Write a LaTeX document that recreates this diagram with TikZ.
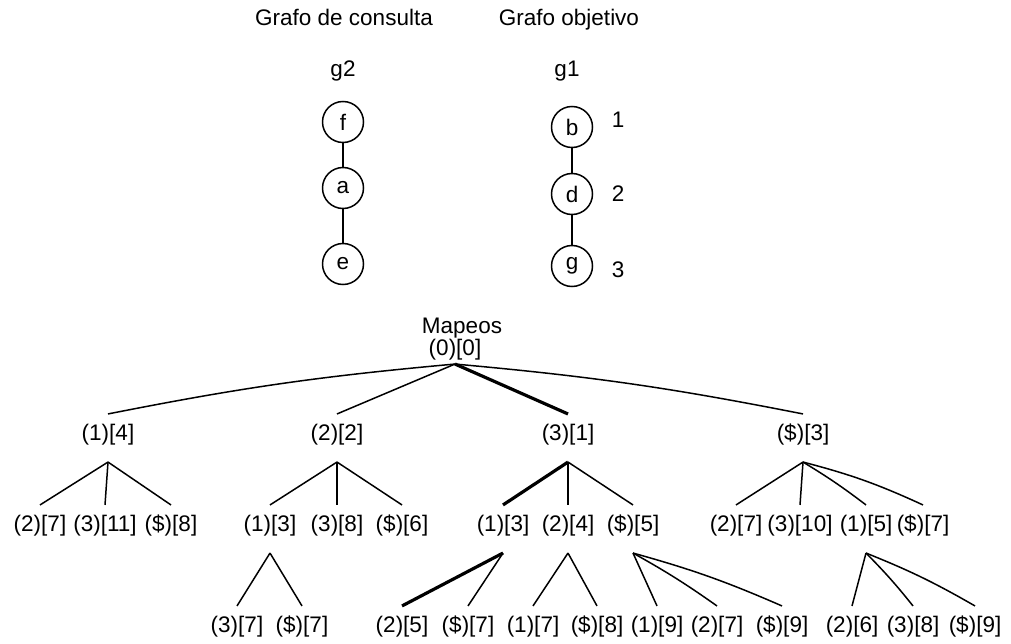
\documentclass[tikz,border=0pt]{standalone}
\usepackage{fontspec}
\setmainfont{Liberation Sans}
\newcommand{\lblfont}{\fontsize{22.5}{27}\selectfont}
\begin{document}
\begin{tikzpicture}[x=1pt,y=-1pt,
  lbl/.style={font=\lblfont, inner sep=0pt, text height=0.75em, text depth=0.2em, outer ysep=19.3pt},
  rootlbl/.style={lbl, outer ysep=6.3pt},
  title/.style={font=\lblfont, inner sep=0pt, anchor=base},
  vtx/.style={circle, draw, line width=1.5pt, minimum size=41pt, inner sep=0pt, font=\lblfont},
  link/.style={line width=1.5pt},
  branch/.style={line width=1.5pt},
  best/.style={line width=3.2pt},
]
\useasboundingbox (0,0) rectangle (1011,644);

% Titles
\node[title] (tq) at (344,26) {Grafo de consulta};
\node[title] (tt) at (569,26) {Grafo objetivo};
\node[title] (g2) at (343,77) {g2};
\node[title] (g1) at (567,77) {g1};

% Query graph
\node[vtx] (f) at (343,122) {f};
\node[vtx] (a) at (343,188) {a};
\node[vtx] (e) at (343,264) {e};
\draw[link] (f) -- (a);
\draw[link] (a) -- (e);

% Target graph
\node[vtx] (b) at (572,127) {b};
\node[vtx] (d) at (572,194) {d};
\node[vtx] (g) at (572,266) {g};
\draw[link] (b) -- (d);
\draw[link] (d) -- (g);
\node[title] (n1) at (618,128) {1};
\node[title] (n2) at (618,202) {2};
\node[title] (n3) at (618,277) {3};

% Mapping tree
\node[title] (map) at (462,333) {Mapeos};
\node[rootlbl] (r) at (455,353) {(0)[0]};

\node[lbl] (L1a) at (108,438) {(1)[4]};
\node[lbl] (L1b) at (337,438) {(2)[2]};
\node[lbl] (L1c) at (568,438) {(3)[1]};
\node[lbl] (L1d) at (803,438) {(\$)[3]};

\node[lbl] (a1) at (40,529) {(2)[7]};
\node[lbl] (a2) at (105,529) {(3)[11]};
\node[lbl] (a3) at (171,529) {(\$)[8]};
\node[lbl] (b1) at (270,529) {(1)[3]};
\node[lbl] (b2) at (337,529) {(3)[8]};
\node[lbl] (b3) at (402,529) {(\$)[6]};
\node[lbl] (c1) at (503,529) {(1)[3]};
\node[lbl] (c2) at (568,529) {(2)[4]};
\node[lbl] (c3) at (633,529) {(\$)[5]};
\node[lbl] (d1) at (736,529) {(2)[7]};
\node[lbl] (d2) at (800,529) {(3)[10]};
\node[lbl] (d3) at (866,529) {(1)[5]};
\node[lbl] (d4) at (923,529) {(\$)[7]};

\node[lbl] (b11) at (237,630) {(3)[7]};
\node[lbl] (b12) at (302,630) {(\$)[7]};
\node[lbl] (c11) at (402,630) {(2)[5]};
\node[lbl] (c12) at (468,630) {(\$)[7]};
\node[lbl] (c21) at (533,630) {(1)[7]};
\node[lbl] (c22) at (597,630) {(\$)[8]};
\node[lbl] (c31) at (657,630) {(1)[9]};
\node[lbl] (c32) at (717,630) {(2)[7]};
\node[lbl] (c33) at (782,630) {(\$)[9]};
\node[lbl] (d31) at (852,630) {(2)[6]};
\node[lbl] (d32) at (913,630) {(3)[8]};
\node[lbl] (d33) at (975,630) {(\$)[9]};

% Branches from the root
\draw[branch] (r.south) to[bend right=3] (L1a.north);
\draw[branch] (r.south) -- (L1b.north);
\draw[best]   (r.south) -- (L1c.north);
\draw[branch] (r.south) to[bend left=3] (L1d.north);

% Second level
\draw[branch] (L1a.south) -- (a1.north);
\draw[branch] (L1a.south) -- (a2.north);
\draw[branch] (L1a.south) -- (a3.north);
\draw[branch] (L1b.south) -- (b1.north);
\draw[branch] (L1b.south) -- (b2.north);
\draw[branch] (L1b.south) -- (b3.north);
\draw[best]   (L1c.south) -- (c1.north);
\draw[branch] (L1c.south) -- (c2.north);
\draw[branch] (L1c.south) -- (c3.north);
\draw[branch] (L1d.south) -- (d1.north);
\draw[branch] (L1d.south) -- (d2.north);
\draw[branch] (L1d.south) to[bend left=3] (d3.north);
\draw[branch] (L1d.south) to[bend left=5] (d4.north);

% Third level
\draw[branch] (b1.south) -- (b11.north);
\draw[branch] (b1.south) -- (b12.north);
\draw[best]   (c1.south) -- (c11.north);
\draw[branch] (c1.south) -- (c12.north);
\draw[branch] (c2.south) -- (c21.north);
\draw[branch] (c2.south) -- (c22.north);
\draw[branch] (c3.south) -- (c31.north);
\draw[branch] (c3.south) to[bend left=3] (c32.north);
\draw[branch] (c3.south) to[bend left=4] (c33.north);
\draw[branch] (d3.south) -- (d31.north);
\draw[branch] (d3.south) to[bend left=3] (d32.north);
\draw[branch] (d3.south) to[bend left=4] (d33.north);
\end{tikzpicture}
\end{document}
